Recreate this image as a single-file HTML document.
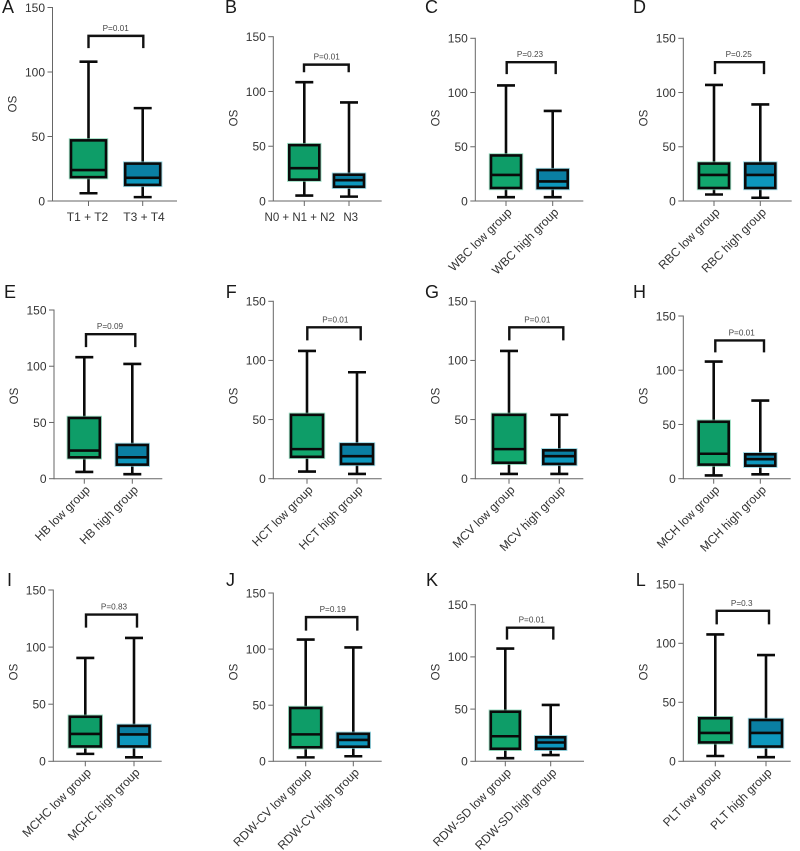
<!DOCTYPE html>
<html>
<head>
<meta charset="utf-8">
<title>OS box plots</title>
<style>
html,body{margin:0;padding:0;background:#fff;width:800px;height:851px;overflow:hidden}
svg{display:block;filter:blur(0.3px)}
text{font-family:"Liberation Sans",sans-serif}
</style>
</head>
<body>
<svg id="chart" xmlns="http://www.w3.org/2000/svg" width="800" height="851" viewBox="0 0 800 851"></svg>
<script>
// ---- Data ----
var panelLetters = ['A','B','C','D','E','F','G','H','I','J','K','L'];
var yTickValues = [0,50,100,150];
var yAxisMax = 150;
var categoryLabels = [
  ['T1 + T2','T3 + T4'],
  ['N0 + N1 + N2','N3'],
  ['WBC low group','WBC high group'],
  ['RBC low group','RBC high group'],
  ['HB low group','HB high group'],
  ['HCT low group','HCT high group'],
  ['MCV low group','MCV high group'],
  ['MCH low group','MCH high group'],
  ['MCHC low group','MCHC high group'],
  ['RDW-CV low group','RDW-CV high group'],
  ['RDW-SD low group','RDW-SD high group'],
  ['PLT low group','PLT high group']
];
var pValues = ['P=0.01','P=0.01','P=0.23','P=0.25','P=0.09','P=0.01','P=0.01','P=0.01','P=0.83','P=0.19','P=0.01','P=0.3'];
// each box: [min, q1, median, q3, max]
var firstGroupStats = [
  [6,18.5,24,47,108],
  [5,19.5,30,51,108.5],
  [3.5,12,24,42,106.5],
  [6,12,24,34.5,107],
  [6,19,25,54,108],
  [6,18.5,25,54,108],
  [4,13.5,25,54,108],
  [3,13,23,52.5,108],
  [6.5,13,24,39,90.5],
  [3.5,12.5,24,47.5,108.5],
  [3,12,24,47.5,108],
  [4.5,16,24,36.5,107.5]
];
var secondGroupStats = [
  [3,12.5,18,29,72],
  [4,13,19,24,90],
  [3.5,12,18,28.5,83],
  [3,12,24,34.5,89],
  [4,12.5,19,30,102],
  [4,12.5,19,29,90],
  [4,12.5,19,24,54],
  [4,12,18,22.5,72],
  [3.5,13,23.5,31,108],
  [4.5,13,19,24.5,101.5],
  [6,12,18,23,54],
  [3.5,12.5,24,35,90]
];
var bracketTopValues = [128,124.5,128,128,128.5,128,128,127.5,128.5,128.5,128,127.5];
var bracketDropValues = [118.5,117.5,117,117,117,117,117,116.5,117,116.5,116.5,116];

// ---- Layout (frame of each panel, not data) ----
var panelFrames = [
  {l:2,  ly:13, ax:52.5, ar:177,   y0:201,   yT:7.5,   c1:88.5,  c2:142.7, hw:17.5, b1:88.5,  b2:143.3, px:115.7,osY:104},
  {l:225,ly:13, ax:273.3,ar:381.7, y0:201,   yT:36.7,  c1:304.3, c2:349,   hw:15,   b1:304,   b2:348.7, px:326.7,osY:118},
  {l:425,ly:13, ax:475.3,ar:583.3, y0:201,   yT:38.3,  c1:506,   c2:552.7, hw:15,   b1:506.7, b2:555.7, px:530,  osY:118},
  {l:633,ly:13, ax:683.3,ar:791.7, y0:201,   yT:38.3,  c1:714,   c2:760.3, hw:15,   b1:715,   b2:764,   px:738.7,osY:118},
  {l:4,  ly:298,ax:54,   ar:162.3, y0:478.7, yT:310,   c1:84.3,  c2:132.3, hw:15.5, b1:86,    b2:135.3, px:110,  osY:396},
  {l:225.7,ly:298,ax:273.3,ar:381.7,y0:478.7,yT:301.3, c1:307,   c2:357,   hw:16,   b1:307.3, b2:360.7, px:335.3,osY:396},
  {l:425,ly:298,ax:475.3,ar:583.3, y0:478.7, yT:301.3, c1:509,   c2:559.3, hw:16,   b1:509.3, b2:563.3, px:537.3,osY:396},
  {l:633,ly:298,ax:683.3,ar:790.7, y0:478.7, yT:316,   c1:713.7, c2:760.3, hw:15,   b1:715.3, b2:764,   px:741.7,osY:396},
  {l:7,  ly:586,ax:53.3, ar:161.7, y0:761.3, yT:590,   c1:85.3,  c2:134,   hw:15.5, b1:86,    b2:137,   px:114,  osY:672},
  {l:226,ly:586,ax:273.3,ar:381.7, y0:761.3, yT:593,   c1:305.7, c2:353.3, hw:15.5, b1:306,   b2:357.3, px:332.7,osY:672},
  {l:426,ly:586,ax:475.3,ar:584,   y0:761.3, yT:604.7, c1:505.3, c2:550.7, hw:14.5, b1:507,   b2:553.3, px:531.7,osY:672},
  {l:635.7,ly:586,ax:683.3,ar:790.7,y0:761.3,yT:584.3, c1:715.3, c2:766,   hw:16,   b1:716.7, b2:769,   px:741.7,osY:672}
];

var NS = 'http://www.w3.org/2000/svg';
var svg = document.getElementById('chart');

function make(tag, attrs, parent, text) {
  var el = document.createElementNS(NS, tag);
  for (var k in attrs) el.setAttribute(k, attrs[k]);
  if (text !== undefined) el.textContent = text;
  parent.appendChild(el);
  return el;
}

function yScaleFor(frame) {
  return function (v) { return frame.y0 - (v / yAxisMax) * (frame.y0 - frame.yT); };
}

function drawBox(parent, stats, cx, hw, y, fill, halo, lowFill, name) {
  var g = make('g', {}, parent);
  
  
  var capHw = 9;
  var sw = 2.6;
  make('line', {x1:cx, x2:cx, y1:y(stats[4]), y2:y(stats[3]), stroke:'#0a0a0a', 'stroke-width':sw}, g);
  make('line', {x1:cx, x2:cx, y1:y(stats[1]), y2:y(stats[0]), stroke:'#0a0a0a', 'stroke-width':sw}, g);
  make('line', {x1:cx-capHw, x2:cx+capHw, y1:y(stats[4]), y2:y(stats[4]), stroke:'#0a0a0a', 'stroke-width':sw}, g);
  make('line', {x1:cx-capHw, x2:cx+capHw, y1:y(stats[0]), y2:y(stats[0]), stroke:'#0a0a0a', 'stroke-width':sw}, g);
  make('rect', {x:cx-hw-0.5, y:y(stats[3])-0.5, width:2*hw+1, height:y(stats[1])-y(stats[3])+1, fill:'none', stroke:halo, 'stroke-width':sw+0.8, opacity:0.7}, g);
  make('rect', {x:cx-hw, y:y(stats[3]), width:2*hw, height:y(stats[2])-y(stats[3]), fill:fill}, g);
  make('rect', {x:cx-hw, y:y(stats[2]), width:2*hw, height:y(stats[1])-y(stats[2]), fill:lowFill}, g);
  make('rect', {x:cx-hw, y:y(stats[3]), width:2*hw, height:y(stats[1])-y(stats[3]), fill:'none', stroke:'#0a0a0a', 'stroke-width':sw}, g);
  make('line', {x1:cx-hw, x2:cx+hw, y1:y(stats[2]), y2:y(stats[2]), stroke:'#0a0a0a', 'stroke-width':sw}, g);
}

panelFrames.forEach(function (f, i) {
  var y = yScaleFor(f);
  var letter = panelLetters[i];
  var panel = make('g', {}, svg);
  
  

  var letterEl = make('text', {x:f.l, y:f.ly, 'font-size':18, fill:'#1a1a1a'}, panel, letter);
  
  

  // y axis
  var yAxis = make('g', {}, panel);
  
  
  make('line', {x1:f.ax, x2:f.ax, y1:f.yT-0.5, y2:f.y0+0.5, stroke:'#666', 'stroke-width':1}, yAxis);
  yTickValues.forEach(function (t) {
    make('line', {x1:f.ax-5, x2:f.ax, y1:y(t), y2:y(t), stroke:'#666', 'stroke-width':1}, yAxis);
    var tick = make('text', {x:f.ax-7.5, y:y(t)+4.3, 'font-size':12, 'text-anchor':'end', fill:'#333'}, yAxis, String(t));
    
    
  });
  var osX = f.ax - 36;
  var os = make('text', {x:osX, y:f.osY, 'font-size':11.5, 'text-anchor':'middle', fill:'#333', transform:'rotate(-90 ' + osX + ' ' + f.osY + ')'}, yAxis, 'OS');
  
  

  // x axis
  var xAxis = make('g', {}, panel);
  
  
  make('line', {x1:f.ax, x2:f.ar, y1:f.y0, y2:f.y0, stroke:'#666', 'stroke-width':1}, xAxis);
  [f.c1, f.c2].forEach(function (cx, j) {
    make('line', {x1:cx, x2:cx, y1:f.y0, y2:f.y0+5, stroke:'#666', 'stroke-width':1}, xAxis);
    var label;
    if (i < 2) {
      var lx = cx;
      if (i === 1) lx = j === 0 ? 299.7 : 350.7;
      else lx = j === 0 ? 87.5 : 144;
      label = make('text', {x:lx, y:221, 'font-size':i === 1 ? 11.5 : 12, 'text-anchor':'middle', fill:'#333'}, xAxis, categoryLabels[i][j]);
    } else {
      var ax = cx + 6.5, ay = f.y0 + 12;
      label = make('text', {x:ax, y:ay, 'font-size':12, 'text-anchor':'end', fill:'#333', transform:'rotate(-45 ' + ax + ' ' + ay + ')'}, xAxis, categoryLabels[i][j]);
    }
    
    
  });

  // boxes
  drawBox(panel, firstGroupStats[i], f.c1, f.hw, y, '#0e9d68', '#6fd0a8', '#12a86e', 'box-first-group');
  drawBox(panel, secondGroupStats[i], f.c2, i === 10 ? 14.5 : f.hw, y, '#0a7fa3', '#6cc6d8', '#0d97bd', 'box-second-group');

  // significance bracket
  var topY = y(bracketTopValues[i]);
  var dropY = y(bracketDropValues[i]);
  var bracket = make('path', {d:'M' + f.b1 + ' ' + dropY + 'V' + topY + 'H' + f.b2 + 'V' + dropY, fill:'none', stroke:'#111', 'stroke-width':2.4}, panel);
  
  
  var pText = make('text', {x:f.px, y:topY-5, 'font-size':8.2, 'text-anchor':'middle', fill:'#444'}, panel, pValues[i]);
  
  
});
</script>
</body>
</html>
